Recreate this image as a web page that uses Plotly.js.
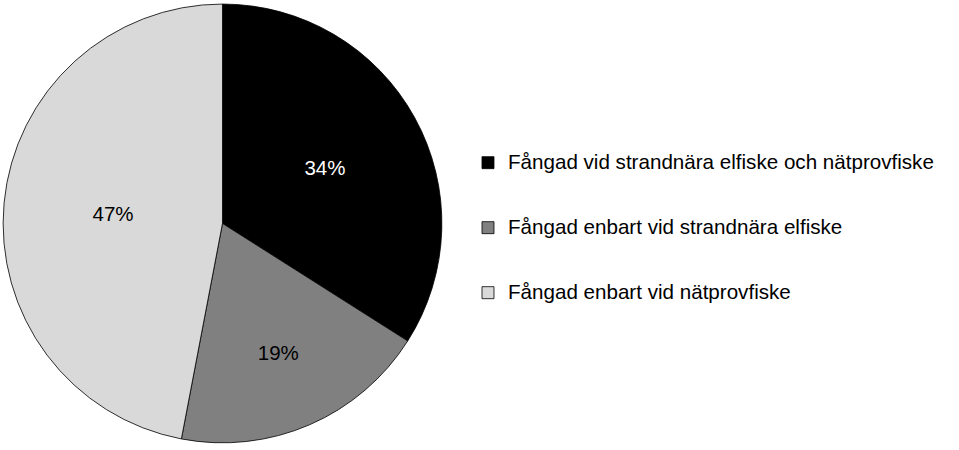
<!DOCTYPE html>
<html>
<head>
<meta charset="utf-8">
<script src="https://cdn.plot.ly/plotly-3.0.1.min.js"></script>
<style>
  html,body{margin:0;padding:0;background:#fff;}
  #chart{width:959px;height:450px;}
</style>
</head>
<body>
<div id="chart"></div>
<script>
// ── Data ──
const categories = [
  'Fångad vid strandnära elfiske och nätprovfiske',
  'Fångad enbart vid strandnära elfiske',
  'Fångad enbart vid nätprovfiske'
];
const shares = [34, 19, 47];
const sliceColors = ['#000000', '#808080', '#d9d9d9'];
const labelColors = ['#ffffff', '#000000', '#000000'];

// spacer lines around each label give the wide gaps between legend rows
const legendLabels = categories.map(c => '\u00a0<br><span style="font-size:20.6px">' + c + '</span><br>\u00a0');

const trace = {
  type: 'pie',
  labels: legendLabels,
  values: shares,
  sort: false,
  direction: 'clockwise',
  rotation: 0,
  marker: {colors: sliceColors, line: {color: '#000000', width: 0.8}},
  textinfo: 'percent',
  textposition: 'inside',
  insidetextorientation: 'horizontal',
  insidetextfont: {color: labelColors, size: 20.5, family: 'Liberation Sans, Arial, sans-serif'},
  hoverinfo: 'none',
  domain: {x: [0.002, 0.462], y: [0.016, 0.991]}
};

const layout = {
  width: 959, height: 450,
  margin: {l: 0, r: 0, t: 0, b: 0},
  paper_bgcolor: '#ffffff',
  font: {family: 'Liberation Sans, Arial, sans-serif', color: '#000000'},
  showlegend: true,
  legend: {
    x: 0.488, xanchor: 'left',
    y: 0.493, yanchor: 'middle',
    font: {size: 15.9, color: '#000000'},
    bgcolor: 'rgba(0,0,0,0)',
    valign: 'middle'
  }
};

Plotly.newPlot('chart', [trace], layout, {displayModeBar: false, staticPlot: true});
</script>
</body>
</html>
